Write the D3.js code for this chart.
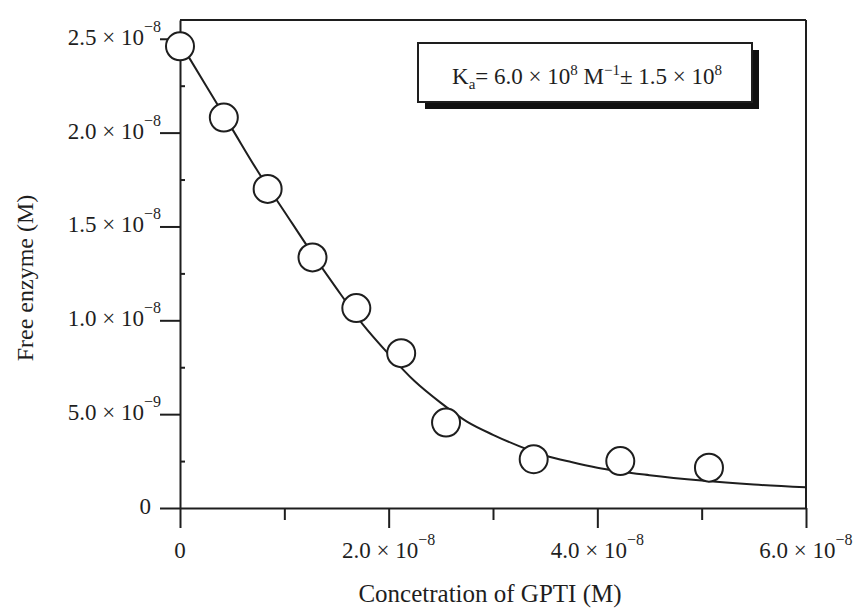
<!DOCTYPE html>
<html>
<head>
<meta charset="utf-8">
<script src="https://cdn.jsdelivr.net/npm/d3@7"></script>
<style>
  body { margin: 0; background: #fff; }
  svg text { font-family: "Liberation Serif", "DejaVu Serif", serif; fill: #1e1e1e; }
</style>
</head>
<body>
<div id="chart"></div>
<script>
// measured points (x in M, y in M)
const concGPTI = [0, 0.42e-8, 0.84e-8, 1.27e-8, 1.69e-8, 2.12e-8, 2.55e-8, 3.39e-8, 4.22e-8, 5.07e-8];
const freeEnzyme = [2.46e-8, 2.08e-8, 1.70e-8, 1.335e-8, 1.065e-8, 0.825e-8, 0.455e-8, 0.26e-8, 0.25e-8, 0.215e-8];

// fitted curve
const fitX = [0, 0.25e-8, 0.5e-8, 0.75e-8, 1.0e-8, 1.25e-8, 1.5e-8, 1.75e-8, 2.0e-8, 2.25e-8, 2.5e-8,
  2.75e-8, 3.0e-8, 3.25e-8, 3.5e-8, 3.75e-8, 4.0e-8, 4.5e-8, 5.0e-8, 5.5e-8, 6.0e-8];
const fitY = [2.48e-8, 2.25e-8, 2.02e-8, 1.79e-8, 1.58e-8, 1.37e-8, 1.17e-8, 0.98e-8, 0.82e-8, 0.675e-8, 0.56e-8,
  0.46e-8, 0.39e-8, 0.33e-8, 0.28e-8, 0.245e-8, 0.215e-8, 0.175e-8, 0.146e-8, 0.125e-8, 0.11e-8];

// ticks
const xTicks = [0, 2e-8, 4e-8, 6e-8];
const xTickLabels = [["0", ""], ["2.0 \u00d7 10", "\u22128"], ["4.0 \u00d7 10", "\u22128"], ["6.0 \u00d7 10", "\u22128"]];
const xMinor = [1e-8, 3e-8, 5e-8];
const yTicks = [0, 5e-9, 1e-8, 1.5e-8, 2e-8, 2.5e-8];
const yTickLabels = [["0", ""], ["5.0 \u00d7 10", "\u22129"], ["1.0 \u00d7 10", "\u22128"], ["1.5 \u00d7 10", "\u22128"],
  ["2.0 \u00d7 10", "\u22128"], ["2.5 \u00d7 10", "\u22128"]];
const yMinor = [2.5e-9, 7.5e-9, 1.25e-8, 1.75e-8, 2.25e-8];

const width = 854, height = 612;
const stroke = "#1e1e1e";

const svg = d3.select("#chart").append("svg")
  .attr("width", width)
  .attr("height", height);

const x = d3.scaleLinear().domain([0, 6e-8]).range([180, 806]);
const y = d3.scaleLinear().domain([0, 2.6e-8]).range([508, 20]);

// frame: top and right lines
svg.append("line")
  .attr("x1", x(0)).attr("x2", x(6e-8))
  .attr("y1", y(2.6e-8)).attr("y2", y(2.6e-8))
  .attr("stroke", stroke).attr("stroke-width", 2);
svg.append("line")
  .attr("x1", x(6e-8)).attr("x2", x(6e-8))
  .attr("y1", y(2.6e-8)).attr("y2", y(0))
  .attr("stroke", stroke).attr("stroke-width", 2);

// x axis
svg.append("g")
  .attr("transform", "translate(0," + y(0) + ")")
  .call(d3.axisBottom(x).tickValues(xTicks).tickSize(20).tickSizeOuter(0).tickFormat(""));
svg.append("g")
  .attr("transform", "translate(0," + y(0) + ")")
  .call(d3.axisBottom(x).tickValues(xMinor).tickSize(12).tickSizeOuter(0).tickFormat(""))
  .select(".domain").remove();

// y axis
svg.append("g")
  .attr("transform", "translate(" + x(0) + ",0)")
  .call(d3.axisLeft(y).tickValues(yTicks).tickSize(20).tickSizeOuter(0).tickFormat(""));
svg.append("g")
  .attr("transform", "translate(" + x(0) + ",0)")
  .call(d3.axisRight(y).tickValues(yMinor).tickSize(5).tickSizeOuter(0).tickFormat(""))
  .select(".domain").remove();

svg.selectAll(".domain, .tick line")
  .attr("stroke", stroke)
  .attr("stroke-width", 2);

// tick labels with superscripts
const xl = svg.append("g").selectAll("text")
  .data(xTicks)
  .enter()
  .append("text")
  .attr("x", (d) => x(d))
  .attr("y", 558)
  .attr("text-anchor", "middle")
  .style("font-size", "23px");
xl.append("tspan").text((d, i) => xTickLabels[i][0]);
xl.append("tspan")
  .attr("dy", -13)
  .style("font-size", "16px")
  .text((d, i) => xTickLabels[i][1]);

const yl = svg.append("g").selectAll("text")
  .data(yTicks)
  .enter()
  .append("text")
  .attr("x", (d) => (d === 0 ? 151 : 161))
  .attr("y", (d) => y(d) + 6)
  .attr("text-anchor", "end")
  .style("font-size", "23px");
yl.append("tspan").text((d, i) => yTickLabels[i][0]);
yl.append("tspan")
  .attr("dy", -13)
  .style("font-size", "16px")
  .text((d, i) => yTickLabels[i][1]);

// fitted curve
const fit = fitX.map((d, i) => ({ x: d, y: fitY[i] }));
const line = d3.line()
  .x((d) => x(d.x))
  .y((d) => y(d.y))
  .curve(d3.curveMonotoneX);
svg.append("path")
  .datum(fit)
  .attr("d", line)
  .attr("fill", "none")
  .attr("stroke", stroke)
  .attr("stroke-width", 2);

// data points
svg.append("g").selectAll("circle")
  .data(concGPTI)
  .enter()
  .append("circle")
  .attr("cx", (d) => x(d))
  .attr("cy", (d, i) => y(freeEnzyme[i]))
  .attr("r", 14)
  .attr("fill", "#fff")
  .attr("stroke", stroke)
  .attr("stroke-width", 2);

// Ka box with drop shadow
const box = { x: 418, y: 43, w: 334, h: 59 };
svg.append("rect")
  .attr("x", box.x + 7).attr("y", box.y + 7)
  .attr("width", box.w).attr("height", box.h)
  .attr("fill", "#111");
svg.append("rect")
  .attr("x", box.x).attr("y", box.y)
  .attr("width", box.w).attr("height", box.h)
  .attr("fill", "#fff")
  .attr("stroke", stroke)
  .attr("stroke-width", 2);

const ka = svg.append("text")
  .attr("x", 452)
  .attr("y", 84)
  .style("font-size", "23px");
ka.append("tspan").text("K");
ka.append("tspan").attr("dy", 5).style("font-size", "15px").text("a");
ka.append("tspan").attr("dy", -5).text("= 6.0 \u00d7 10");
ka.append("tspan").attr("dy", -9).style("font-size", "15px").text("8");
ka.append("tspan").attr("dy", 9).text(" M");
ka.append("tspan").attr("dy", -9).style("font-size", "15px").text("\u22121");
ka.append("tspan").attr("dy", 9).text("\u00b1 1.5 \u00d7 10");
ka.append("tspan").attr("dy", -9).style("font-size", "15px").text("8");

// axis titles
svg.append("text")
  .attr("x", 490)
  .attr("y", 602)
  .attr("text-anchor", "middle")
  .style("font-size", "25px")
  .text("Concetration of GPTI (M)");

svg.append("text")
  .attr("transform", "translate(33,278)rotate(-90)")
  .attr("text-anchor", "middle")
  .style("font-size", "24px")
  .text("Free enzyme (M)");
</script>
</body>
</html>
